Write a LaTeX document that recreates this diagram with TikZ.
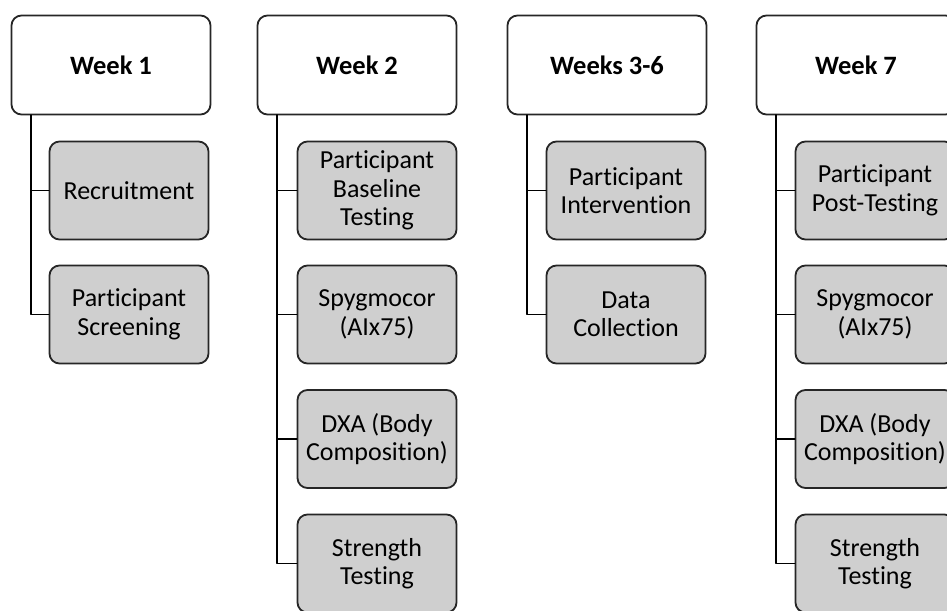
\documentclass[tikz,border=0pt]{standalone}
\usepackage{fontspec}
\setmainfont[Ligatures=NoCommon]{Carlito}
\usetikzlibrary{positioning}
\begin{document}
\begin{tikzpicture}[x=1pt,y=-1pt,line join=round,line cap=round,
		font=\fontsize{26}{28.5}\selectfont,
		week/.style={draw=black!85,line width=1.8pt,rounded corners=10pt,fill=white,minimum width=199pt,minimum height=99pt,font=\fontsize{26.5}{28.5}\selectfont\bfseries},
		task/.style={draw=black!85,line width=1.8pt,rounded corners=10pt,fill=black!19,minimum width=159pt,minimum height=98pt,align=center,inner sep=2pt},
		link/.style={line width=1.8pt,black}]
	
	\useasboundingbox (0,0) rectangle (947,610);
	\clip (0,0) rectangle (947,610);
	\def\ya{190.5}
	\def\yb{314.5}
	\def\yc{439}
	\def\yd{563.5}
	% Kopfzeilen
	\node[week] (w1) at (111,65) {Week 1};
	\node[week] (w2) at (357,65) {Week 2};
	\node[week] (w36) at (607,65) {Weeks 3-6};
	\node[week] (w7) at (856,65) {Week 7};
	% Woche 1
	\node[task] (rec) at (129,\ya) {Recruitment};
	\node[task] (scr) at (129,\yb) {Participant\\Screening};
	% Woche 2
	\node[task] (base) at (377,\ya) {Participant\\Baseline\\Testing};
	\node[task] (spyA) at (377,\yb) {Spygmocor\\(AIx75)};
	\node[task] (dxaA) at (377,\yc) {DXA (Body\\Composition)};
	\node[task] (strA) at (377,\yd) {Strength\\Testing};
	% Wochen 3-6
	\node[task] (int) at (626,\ya) {Participant\\Intervention};
	\node[task] (data) at (626,\yb) {Data\\Collection};
	% Woche 7
	\node[task] (post) at (875,\ya) {Participant\\Post-Testing};
	\node[task] (spyB) at (875,\yb) {Spygmocor\\(AIx75)};
	\node[task] (dxaB) at (875,\yc) {DXA (Body\\Composition)};
	\node[task] (strB) at (875,\yd) {Strength\\Testing};
	% Verbindungen
	\foreach \h/\t in {w1/rec,w1/scr,w2/base,w2/spyA,w2/dxaA,w2/strA,w36/int,w36/data,w7/post,w7/spyB,w7/dxaB,w7/strB}
		\draw[link] ([xshift=20pt]\h.south west) |- (\t.west);
\end{tikzpicture}
\end{document}
